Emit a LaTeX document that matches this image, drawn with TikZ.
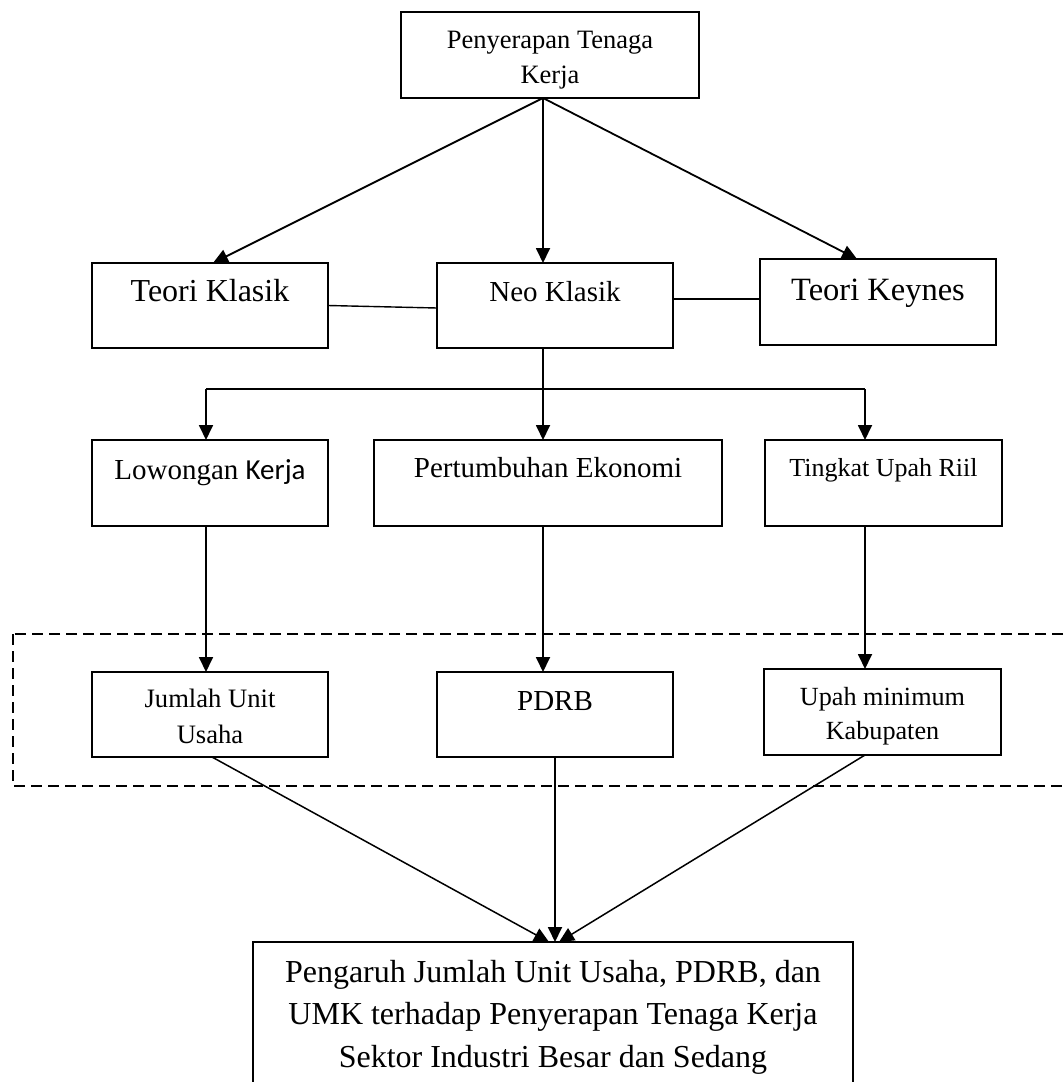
\documentclass[tikz,border=0pt]{standalone}
\usepackage{fontspec}
\setmainfont{Liberation Serif}
\newfontfamily\calib{Carlito}
\usetikzlibrary{arrows.meta}
\newcommand\myfs[2]{\fontsize{#1pt}{#2pt}\selectfont}
\tikzset{
  box/.style={draw, line width=2pt, inner sep=0pt, outer sep=0pt},
  txt/.style={anchor=base, inner sep=0pt, align=center},
  conn/.style={line width=1.8pt},
  arr/.style={conn, -{Triangle[length=15pt,width=14pt]}},
  dashbox/.style={line width=2pt, dash pattern=on 11pt off 6pt},
}
\begin{document}
\begin{tikzpicture}[x=1pt,y=-1pt]
\useasboundingbox (0,0) rectangle (1064,1082);
\clip (0,0) rectangle (1064,1082);
\fill[white] (0,0) rectangle (1064,1082);

% dashed group
\draw[dashbox] (13,634) rectangle (1100,786);

% boxes
\node[box, minimum width=298pt, minimum height=86pt] (top) at (550,55) {};
\node[box, minimum width=236pt, minimum height=85pt] (tk) at (210,305.5) {};
\node[box, minimum width=236pt, minimum height=85pt] (nk) at (555,305.5) {};
\node[box, minimum width=236pt, minimum height=86pt] (kn) at (878,302) {};
\node[box, minimum width=236pt, minimum height=86pt] (lk) at (210,483) {};
\node[box, minimum width=348pt, minimum height=86pt] (pe) at (548,483) {};
\node[box, minimum width=237pt, minimum height=86pt] (tu) at (883.5,483) {};
\node[box, minimum width=236pt, minimum height=85pt] (ju) at (210,714.5) {};
\node[box, minimum width=236pt, minimum height=85pt] (pd) at (555,714.5) {};
\node[box, minimum width=237pt, minimum height=86pt] (up) at (882.5,712) {};
\node[box, minimum width=600pt, minimum height=220pt] (bt) at (553,1052) {};

% texts (multi-line nodes: base = last line)
\node[txt, font=\myfs{26.5}{34.5}] (topt) at (550,83) {Penyerapan Tenaga\\Kerja};
\node[txt, font=\myfs{32}{38}] (tkt) at (210,301) {Teori Klasik};
\node[txt, font=\myfs{29}{35}] (nkt) at (555,301) {Neo Klasik};
\node[txt, font=\myfs{32.5}{38}] (knt) at (878,300) {Teori Keynes};
\node[txt, font=\myfs{29}{35}] (lkt) at (210,479) {Lowongan {\calib Kerja}};
\node[txt, font=\myfs{29}{35}] (pet) at (548,477) {Pertumbuhan Ekonomi};
\node[txt, font=\myfs{26}{32}] (tut) at (883.5,476) {Tingkat Upah Riil};
\node[txt, font=\myfs{26.6}{36}] (jut) at (210,743) {Jumlah Unit\\Usaha};
\node[txt, font=\myfs{29}{35}] (pdt) at (555,710) {PDRB};
\node[txt, font=\myfs{26.2}{34}] (upt) at (882.5,739) {Upah minimum\\Kabupaten};
\node[txt, font=\myfs{32}{42.5}] (btt) at (553,1067) {Pengaruh Jumlah Unit Usaha, PDRB, dan\\UMK terhadap Penyerapan Tenaga Kerja\\Sektor Industri Besar dan Sedang};

% junction coordinates
\coordinate (ts) at ([xshift=-7pt]top.south);
\coordinate (br) at (543,389);
\coordinate (brl) at (206,389);
\coordinate (brr) at (865,389);

% top fan-out
\draw[arr] (ts) -- ([xshift=3pt]tk.north);
\draw[arr] (ts) -- (ts |- nk.north);
\draw[arr] (ts) -- ([xshift=-21pt]kn.north);

% side links
\draw[conn, line width=1.4pt] (tk.east) -- ([yshift=-2.5pt]nk.west);
\coordinate (nkr) at ([yshift=6.5pt]nk.east);
\draw[conn] (nkr) -- (nkr -| kn.west);

% neo klasik branch
\draw[conn] (br |- nk.south) -- (br);
\draw[conn] (brl) -- (brr);
\draw[arr] (brl) -- (brl |- lk.north);
\draw[arr] (br) -- (br |- pe.north);
\draw[arr] (brr) -- (brr |- tu.north);

% row 3 to row 4
\draw[arr] (brl |- lk.south) -- (brl |- ju.north);
\draw[arr] (br |- pe.south) -- (br |- pd.north);
\draw[arr] (brr |- tu.south) -- (brr |- up.north);

% converge
\draw[arr, line width=1.5pt] ([xshift=2pt]ju.south) -- ([xshift=-4pt]bt.north);
\draw[arr] (pd.south) -- (pd.south |- bt.north);
\draw[arr, line width=1.5pt] ([xshift=-17.5pt]up.south) -- ([xshift=6pt]bt.north);
\end{tikzpicture}
\end{document}
